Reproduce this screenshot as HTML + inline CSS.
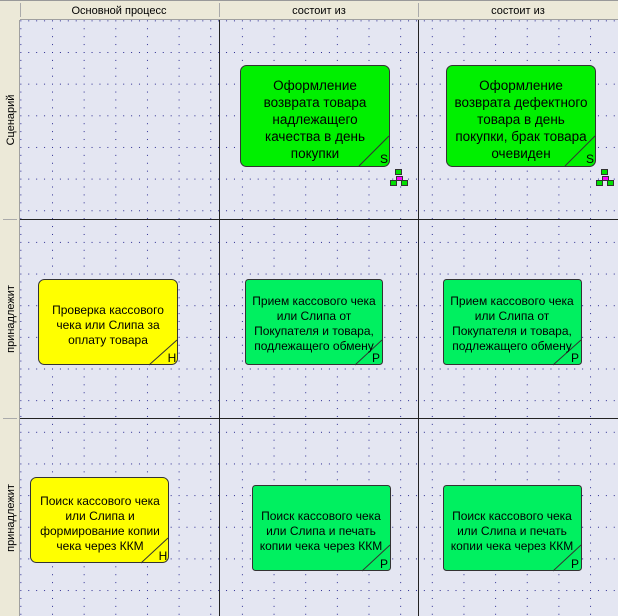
<!DOCTYPE html>
<html><head><meta charset="utf-8"><style>
body{margin:0;width:618px;height:616px;overflow:hidden;background:#e4e6f2;font-family:"Liberation Sans",sans-serif}
</style></head><body>
<svg width="618" height="616" xmlns="http://www.w3.org/2000/svg" style="position:absolute;left:0;top:0" font-family="Liberation Sans, sans-serif">
<defs>
<pattern id="g" x="52" y="52" width="31.65" height="31.65" patternUnits="userSpaceOnUse">
<rect x="0" y="0" width="1" height="1" fill="#2a2a90"/>
<rect x="7.9" y="0" width="1" height="1" fill="#2a2a90"/>
<rect x="15.8" y="0" width="1" height="1" fill="#2a2a90"/>
<rect x="23.7" y="0" width="1" height="1" fill="#2a2a90"/>
<rect x="0" y="7.9" width="1" height="1" fill="#2a2a90"/>
<rect x="0" y="15.8" width="1" height="1" fill="#2a2a90"/>
<rect x="0" y="23.7" width="1" height="1" fill="#2a2a90"/>
</pattern>
</defs>
<rect x="20" y="20" width="598" height="596" fill="#e4e6f2"/>
<rect x="20" y="20" width="598" height="596" fill="url(#g)"/>
<rect x="0" y="0" width="618" height="20" fill="#ece9d8"/>
<rect x="0" y="0" width="20" height="616" fill="#ece9d8"/>
<line x1="0" y1="0.5" x2="618" y2="0.5" stroke="#999"/>
<line x1="20" y1="19.5" x2="618" y2="19.5" stroke="#a0a0a0"/>
<line x1="19.5" y1="20" x2="19.5" y2="616" stroke="#a0a0a0"/>
<line x1="20.5" y1="3" x2="20.5" y2="17" stroke="#aaa" stroke-width="1"/>
<line x1="219.5" y1="3" x2="219.5" y2="17" stroke="#aaa"/>
<line x1="418.5" y1="3" x2="418.5" y2="17" stroke="#aaa"/>
<line x1="3" y1="219.5" x2="17" y2="219.5" stroke="#aaa"/>
<line x1="3" y1="418.5" x2="17" y2="418.5" stroke="#aaa"/>
<text x="119" y="14" font-size="11" text-anchor="middle">Основной процесс</text>
<text x="319" y="14" font-size="11" text-anchor="middle">состоит из</text>
<text x="518" y="14" font-size="11" text-anchor="middle">состоит из</text>
<text transform="translate(14,120) rotate(-90)" font-size="11" text-anchor="middle">Сценарий</text>
<text transform="translate(14,319) rotate(-90)" font-size="11" text-anchor="middle">принадлежит</text>
<text transform="translate(14,518) rotate(-90)" font-size="11" text-anchor="middle">принадлежит</text>
<line x1="219.5" y1="20" x2="219.5" y2="616" stroke="#222"/>
<line x1="418.5" y1="20" x2="418.5" y2="616" stroke="#222"/>
<line x1="20" y1="219.5" x2="618" y2="219.5" stroke="#222"/>
<line x1="20" y1="418.5" x2="618" y2="418.5" stroke="#222"/>

<g font-size="13.5" text-anchor="middle">
<rect x="240.5" y="65.5" width="149" height="101" rx="6" fill="#00f000" stroke="#333"/>
<line x1="359" y1="166" x2="389" y2="136" stroke="#333"/>
<text x="384" y="163" font-size="12">S</text>
<text x="315" y="90">Оформление</text>
<text x="315" y="107">возврата товара</text>
<text x="315" y="124">надлежащего</text>
<text x="315" y="141">качества в день</text>
<text x="315" y="158">покупки</text>

<rect x="446.5" y="65.5" width="149" height="101" rx="6" fill="#00f000" stroke="#333"/>
<line x1="565" y1="166" x2="595" y2="136" stroke="#333"/>
<text x="590" y="163" font-size="12">S</text>
<text x="521" y="90">Оформление</text>
<text x="521" y="107">возврата дефектного</text>
<text x="521" y="124">товара в день</text>
<text x="521" y="141">покупки, брак товара</text>
<text x="521" y="158">очевиден</text>
</g>
<g stroke="#333" stroke-width="1">
<rect x="395.5" y="169.5" width="6" height="5" fill="#00e000"/>
<rect x="396.5" y="176.5" width="6" height="4" fill="#ff00ff"/>
<rect x="390.5" y="180.5" width="6" height="5" fill="#00e000"/>
<rect x="401.5" y="180.5" width="6" height="5" fill="#00e000"/>
<rect x="601.5" y="169.5" width="6" height="5" fill="#00e000"/>
<rect x="602.5" y="176.5" width="6" height="4" fill="#ff00ff"/>
<rect x="596.5" y="180.5" width="6" height="5" fill="#00e000"/>
<rect x="607.5" y="180.5" width="6" height="5" fill="#00e000"/>
</g>

<g font-size="12" text-anchor="middle">
<rect x="38.5" y="279.5" width="139" height="85" rx="6" fill="#ffff00" stroke="#333"/>
<line x1="149" y1="365" x2="177" y2="340" stroke="#333"/>
<text x="172" y="362" font-size="12">H</text>
<text x="108" y="314">Проверка кассового</text>
<text x="108" y="329">чека или Слипа за</text>
<text x="108" y="344">оплату товара</text>

<rect x="245.5" y="279.5" width="137" height="85" rx="3" fill="#00f060" stroke="#333"/>
<line x1="355" y1="365" x2="382" y2="340" stroke="#333"/>
<text x="376" y="362" font-size="12">P</text>
<text x="314" y="305">Прием кассового чека</text>
<text x="314" y="320">или Слипа от</text>
<text x="314" y="335">Покупателя и товара,</text>
<text x="314" y="350">подлежащего обмену</text>

<rect x="443.5" y="279.5" width="138" height="85" rx="3" fill="#00f060" stroke="#333"/>
<line x1="553" y1="365" x2="581" y2="340" stroke="#333"/>
<text x="575" y="362" font-size="12">P</text>
<text x="512" y="305">Прием кассового чека</text>
<text x="512" y="320">или Слипа от</text>
<text x="512" y="335">Покупателя и товара,</text>
<text x="512" y="350">подлежащего обмену</text>

<rect x="30.5" y="477.5" width="138" height="85" rx="6" fill="#ffff00" stroke="#333"/>
<line x1="141" y1="563" x2="168" y2="538" stroke="#333"/>
<text x="163" y="560" font-size="12">H</text>
<text x="100" y="505">Поиск кассового чека</text>
<text x="100" y="520">или Слипа и</text>
<text x="100" y="535">формирование копии</text>
<text x="100" y="550">чека через ККМ</text>

<rect x="252.5" y="485.5" width="138" height="85" rx="3" fill="#00f060" stroke="#333"/>
<line x1="362" y1="571" x2="390" y2="545" stroke="#333"/>
<text x="384" y="568" font-size="12">P</text>
<text x="321" y="520">Поиск кассового чека</text>
<text x="321" y="535">или Слипа и печать</text>
<text x="321" y="550">копии чека через ККМ</text>

<rect x="443.5" y="485.5" width="138" height="85" rx="3" fill="#00f060" stroke="#333"/>
<line x1="553" y1="571" x2="581" y2="545" stroke="#333"/>
<text x="575" y="568" font-size="12">P</text>
<text x="512" y="520">Поиск кассового чека</text>
<text x="512" y="535">или Слипа и печать</text>
<text x="512" y="550">копии чека через ККМ</text>
</g>
</svg>
</body></html>
